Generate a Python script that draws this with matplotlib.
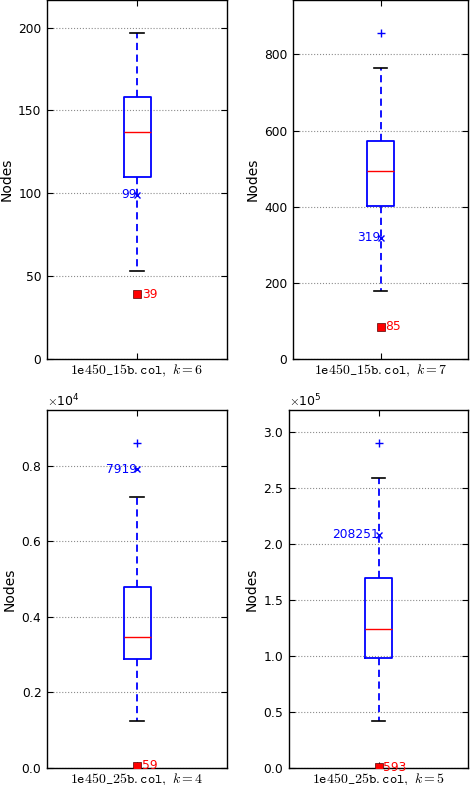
import numpy as np
import matplotlib
matplotlib.use("Agg")
import matplotlib.pyplot as plt
from matplotlib.ticker import ScalarFormatter

plt.rcParams['mathtext.fontset'] = 'cm'
plt.rcParams['font.family'] = 'DejaVu Sans'

# --- Box statistics ---
instances = ['1e450\\_15b.col', '1e450\\_15b.col', '1e450\\_25b.col', '1e450\\_25b.col']
k_values = [6, 7, 4, 5]
q1 = [110, 402, 2875, 98000]
median = [137, 493, 3470, 123600]
q3 = [158, 572, 4790, 169400]
whisker_low = [53, 179, 1250, 42000]
whisker_high = [197, 765, 7170, 258400]
fliers = [[], [857], [8620], [290400]]
blue_marks = [99, 319, 7919, 208251]   # blue x with label on the left
red_marks = [39, 85, 59, 593]          # red square with label on the right
y_ticks = [
    [0, 50, 100, 150, 200],
    [0, 200, 400, 600, 800],
    [0, 2000, 4000, 6000, 8000],
    [0, 50000, 100000, 150000, 200000, 250000, 300000],
]
sci_power = [None, None, 4, 5]

# axes rectangles in pixels: left, top, right, bottom
W, H = 473, 785
boxes_px = [
    (47, 0, 227, 359),
    (293, 0, 468, 359),
    (47, 410, 227, 768),
    (289, 410, 468, 768),
]

fig = plt.figure(figsize=(W / 100, H / 100), dpi=100)

for i in range(4):
    l, t, r, b = boxes_px[i]
    ax = fig.add_axes([l / W, 1 - b / H, (r - l) / W, (b - t) / H])

    stats = [dict(med=median[i], q1=q1[i], q3=q3[i], whislo=whisker_low[i],
                  whishi=whisker_high[i], fliers=fliers[i])]
    ax.bxp(stats, positions=[1], widths=0.15, showfliers=True,
           boxprops=dict(color='blue', linewidth=1.3),
           medianprops=dict(color='red', linewidth=1.0),
           whiskerprops=dict(color='blue', linestyle='--', dashes=(4, 2.5), linewidth=1.3),
           capprops=dict(color='black', linewidth=1.2),
           flierprops=dict(marker='+', markeredgecolor='blue', markersize=6,
                           linestyle='none'))

    ax.plot([1], [blue_marks[i]], marker='x', color='blue', markersize=5,
            markeredgewidth=1.0, linestyle='none', zorder=5)
    ax.text(1.0, blue_marks[i], str(blue_marks[i]), color='blue', fontsize=8.8,
            ha='right', va='center', zorder=4)
    ax.plot([1], [red_marks[i]], marker='s', color='red', markersize=6,
            markeredgecolor='#550000', markeredgewidth=0.5, linestyle='none', zorder=5)
    ax.text(1.027, red_marks[i], str(red_marks[i]), color='red', fontsize=8.8,
            ha='left', va='center', zorder=4)

    all_vals = [whisker_high[i]] + fliers[i] + [blue_marks[i]]
    ax.set_xlim(0.5, 1.5)
    ax.set_ylim(0, 1.1 * max(all_vals))
    ax.set_yticks(y_ticks[i])
    ax.set_xticks([1])
    ax.set_xticklabels([r'$\mathtt{%s,}\ k=%d$' % (instances[i], k_values[i])])
    ax.yaxis.grid(True, linestyle=':', color='0.55', linewidth=0.8)
    ax.set_axisbelow(True)
    ax.tick_params(direction='in', length=4, top=True, right=True,
                   pad=4, width=0.8)
    ax.tick_params(axis='y', labelsize=8.8)
    ax.tick_params(axis='x', labelsize=10, pad=3)
    for s in ax.spines.values():
        s.set_linewidth(1.0)
    ax.set_ylabel('Nodes', fontsize=10, labelpad=3)

    if sci_power[i] is not None:
        fmt = ScalarFormatter(useMathText=True)
        fmt.set_powerlimits((sci_power[i], sci_power[i]))
        ax.yaxis.set_major_formatter(fmt)
        ax.yaxis.get_offset_text().set_fontsize(9)

fig.savefig('out.png', dpi=100)
